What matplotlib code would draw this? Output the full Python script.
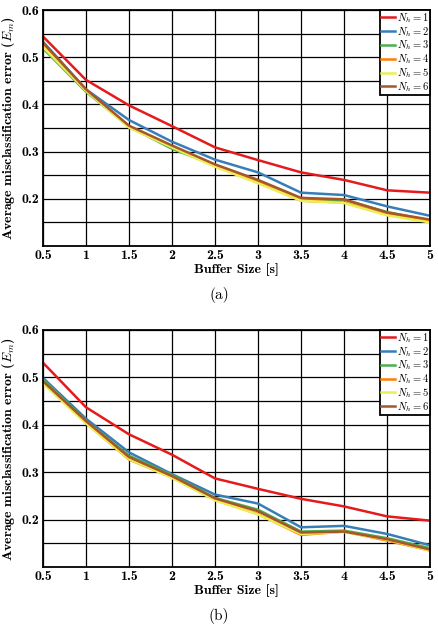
import numpy as np
import matplotlib
matplotlib.use("Agg")
import matplotlib.pyplot as plt

plt.rcParams["mathtext.fontset"] = "cm"
plt.rcParams["axes.formatter.use_mathtext"] = True

# --------- data ---------
buffer_size = [0.5, 1, 1.5, 2, 2.5, 3, 3.5, 4, 4.5, 5]
labels = ["$N_h = 1$", "$N_h = 2$", "$N_h = 3$", "$N_h = 4$", "$N_h = 5$", "$N_h = 6$"]
colors = ["#e41a1c", "#377eb8", "#4daf4a", "#ff7f00", "#eded55", "#a65628"]

# panel (a)
err_a = [
    [0.544, 0.452, 0.398, 0.354, 0.309, 0.282, 0.256, 0.240, 0.218, 0.213],
    [0.533, 0.432, 0.367, 0.321, 0.283, 0.256, 0.213, 0.208, 0.184, 0.164],
    [0.519, 0.427, 0.353, 0.306, 0.271, 0.239, 0.198, 0.198, 0.172, 0.154],
    [0.526, 0.431, 0.353, 0.311, 0.271, 0.235, 0.196, 0.192, 0.168, 0.153],
    [0.522, 0.429, 0.351, 0.309, 0.268, 0.233, 0.196, 0.191, 0.165, 0.150],
    [0.531, 0.432, 0.355, 0.313, 0.273, 0.240, 0.202, 0.199, 0.171, 0.156],
]
# panel (b)
err_b = [
    [0.531, 0.437, 0.380, 0.337, 0.287, 0.265, 0.244, 0.228, 0.207, 0.198],
    [0.499, 0.413, 0.342, 0.296, 0.253, 0.234, 0.184, 0.187, 0.170, 0.146],
    [0.496, 0.408, 0.335, 0.294, 0.246, 0.221, 0.175, 0.177, 0.161, 0.140],
    [0.489, 0.404, 0.327, 0.289, 0.242, 0.212, 0.168, 0.175, 0.156, 0.135],
    [0.487, 0.403, 0.328, 0.288, 0.241, 0.211, 0.170, 0.174, 0.158, 0.135],
    [0.492, 0.408, 0.332, 0.292, 0.245, 0.218, 0.173, 0.175, 0.159, 0.137],
]
x_ticks = [0.5, 1, 1.5, 2, 2.5, 3, 3.5, 4, 4.5, 5]
x_ticklabels = ["0.5", "1", "1.5", "2", "2.5", "3", "3.5", "4", "4.5", "5"]
y_ticks = [0.2, 0.3, 0.4, 0.5, 0.6]
y_ticklabels = ["0.2", "0.3", "0.4", "0.5", "0.6"]
# -------------------------

fig = plt.figure(figsize=(4.38, 6.26), dpi=100)
ax_a = fig.add_axes([0.098, 0.607, 0.884, 0.377])
ax_b = fig.add_axes([0.098, 0.094, 0.884, 0.379])


def draw_panel(ax, data, tag, tag_y):
    for series, lab, col in zip(data, labels, colors):
        ax.plot(buffer_size, series, color=col, lw=1.8, label=lab)

    ax.set_xlim(0.5, 5)
    ax.set_ylim(0.1, 0.6)
    ax.set_xticks(x_ticks)
    ax.set_xticklabels(x_ticklabels, family="cmb10", fontsize=10)
    ax.set_yticks(y_ticks)
    ax.set_yticklabels(y_ticklabels, family="cmb10", fontsize=10)
    ax.set_yticks(np.arange(0.15, 0.6, 0.1), minor=True)
    ax.tick_params(which="both", length=0)
    ax.tick_params(axis="x", pad=3)
    ax.tick_params(axis="y", pad=3)
    ax.grid(True, which="both", color="black", lw=0.9)
    for s in ax.spines.values():
        s.set_linewidth(1.3)

    ax.set_xlabel("Buffer Size [s]", family="cmb10", fontsize=10, labelpad=1)
    ax.set_ylabel(r"Average misclassification error ($E_m$)", family="cmb10",
                  fontsize=10, labelpad=3)

    leg = ax.legend(loc="upper right", fontsize=7.6, handlelength=1.3, handletextpad=0.2,
                    labelspacing=0.0, borderpad=0.1, borderaxespad=0.0,
                    fancybox=False, framealpha=1, edgecolor="black")
    leg.get_frame().set_linewidth(1.3)

    fig.text(0.5, tag_y, tag, ha="center", va="center", family="cmr10", fontsize=11)


draw_panel(ax_a, err_a, "(a)", 1 - 295 / 626)
draw_panel(ax_b, err_b, "(b)", 1 - 616 / 626)

plt.savefig("out.png", dpi=100)
